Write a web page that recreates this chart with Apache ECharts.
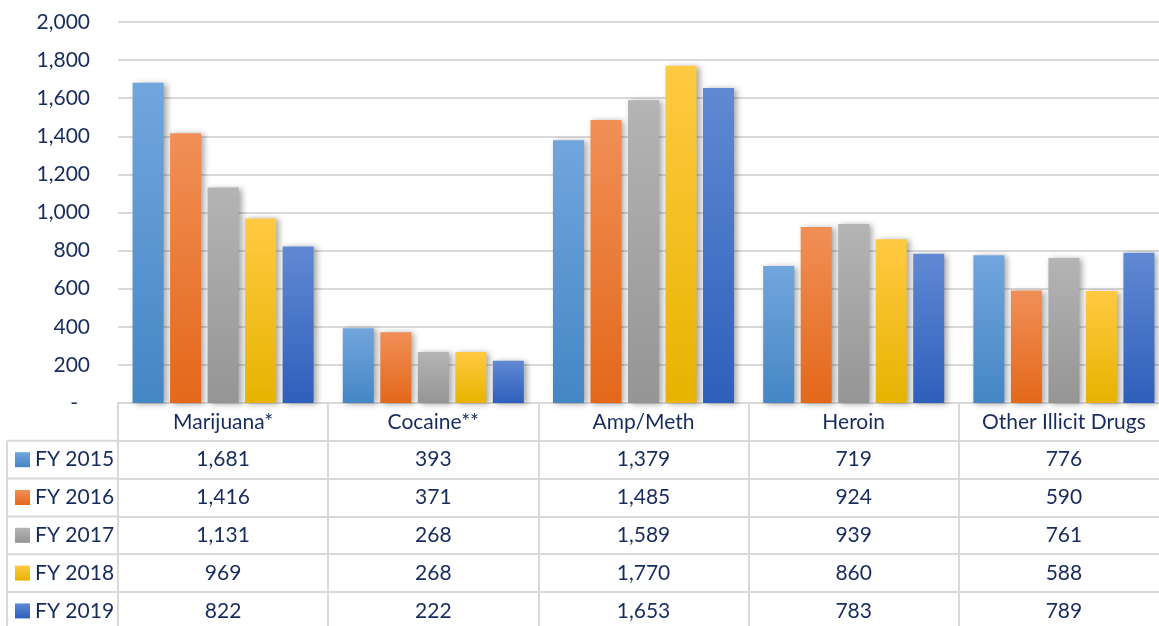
<!DOCTYPE html>
<html>
<head>
<meta charset="utf-8">
<script src="https://cdn.jsdelivr.net/npm/echarts@6/dist/echarts.min.js"></script>
<style>
  html, body { margin: 0; padding: 0; background: #ffffff; }
  #chart { width: 1159px; height: 626px; }
</style>
</head>
<body>
<div id="chart"></div>
<script>
// Drug categories along the x axis
const categories = ['Marijuana*', 'Cocaine**', 'Amp/Meth', 'Heroin', 'Other Illicit Drugs'];

// Fiscal-year series
const seriesNames = ['FY 2015', 'FY 2016', 'FY 2017', 'FY 2018', 'FY 2019'];
const fy2015 = [1681, 393, 1379, 719, 776];
const fy2016 = [1416, 371, 1485, 924, 590];
const fy2017 = [1131, 268, 1589, 939, 761];
const fy2018 = [969, 268, 1770, 860, 588];
const fy2019 = [822, 222, 1653, 783, 789];
const seriesValues = [fy2015, fy2016, fy2017, fy2018, fy2019];

// Value axis range
const yMin = 0;
const yMax = 2000;
const yStep = 200;

// Bar fills: lighter at the top, deeper at the base
const gradients = [
  ['#71a6dd', '#4586c5'],
  ['#f18f57', '#e3681a'],
  ['#b4b4b4', '#959595'],
  ['#ffca42', '#e7b300'],
  ['#6189d3', '#2e5fbb']
];

// Layout constants for the plot and its data table
const GRID_LEFT = 118;
const GRID_TOP = 22;
const GRID_W = 1051;
const GRID_H = 381;
const ROW_H = 37.8;
const TABLE_LEFT = 7;
const FONT = 'Lato, "Noto Sans", sans-serif';
const FONT_SIZE = 21;
const TEXT = '#172c5e';
const LINE = '#d9d9d9';

const fmt = v => v.toLocaleString('en-US');

const chart = echarts.init(document.getElementById('chart'), null, { renderer: 'canvas' });

// Table axes: row 0 is the header, rows 1..5 show each series' values
const tableAxes = [];
for (let r = 0; r <= seriesValues.length; r++) {
  tableAxes.push({
    type: 'category',
    data: categories,
    gridIndex: 0,
    position: 'bottom',
    offset: r * ROW_H,
    axisLine: { show: true, lineStyle: { color: LINE, width: 2 } },
    axisTick: { show: true, interval: 0, length: ROW_H, lineStyle: { color: LINE, width: 2 } },
    axisLabel: {
      interval: 0,
      margin: ROW_H / 2,
      verticalAlign: 'middle',
      color: TEXT,
      fontFamily: FONT,
      fontSize: FONT_SIZE,
      formatter: r === 0 ? (v => v) : ((v, i) => fmt(seriesValues[r - 1][i]))
    },
    splitLine: { show: false }
  });
}

// One legend per table row, placed in the left column
const legends = seriesNames.map((name, k) => ({
  orient: 'horizontal',
  left: 15,
  top: GRID_TOP + GRID_H + (k + 1.5) * ROW_H - 11,
  padding: 0,
  itemWidth: 15,
  itemHeight: 15,
  icon: 'rect',
  selectedMode: false,
  data: [name],
  textStyle: { color: TEXT, fontFamily: FONT, fontSize: FONT_SIZE, lineHeight: 22 }
}));

// Borders of the legend column to the left of the table
const tableGraphics = [];
for (let r = 1; r <= seriesValues.length; r++) {
  tableGraphics.push({
    type: 'line',
    shape: { x1: TABLE_LEFT, y1: GRID_TOP + GRID_H + r * ROW_H, x2: GRID_LEFT, y2: GRID_TOP + GRID_H + r * ROW_H },
    style: { stroke: LINE, lineWidth: 2 },
    silent: true
  });
}
tableGraphics.push({
  type: 'line',
  shape: { x1: TABLE_LEFT, y1: GRID_TOP + GRID_H + ROW_H, x2: TABLE_LEFT, y2: GRID_TOP + GRID_H + 7 * ROW_H },
  style: { stroke: LINE, lineWidth: 2 },
  silent: true
});

const option = {
  backgroundColor: '#ffffff',
  animation: false,
  textStyle: { fontFamily: FONT },
  grid: {
    left: GRID_LEFT, top: GRID_TOP, width: GRID_W, height: GRID_H,
    containLabel: false, outerBoundsMode: 'none'
  },
  legend: legends,
  xAxis: tableAxes,
  yAxis: {
    type: 'value',
    min: yMin,
    max: yMax,
    interval: yStep,
    axisLine: { show: false },
    axisTick: { show: false },
    axisLabel: {
      margin: 28,
      color: TEXT,
      fontFamily: FONT,
      fontSize: FONT_SIZE,
      formatter: v => (v === 0 ? '{z|-}' : fmt(v)),
      rich: { z: { color: TEXT, fontFamily: FONT, fontSize: FONT_SIZE, padding: [0, 12, 0, 0] } }
    },
    splitLine: { show: true, lineStyle: { color: LINE, width: 2 } }
  },
  graphic: tableGraphics,
  series: seriesNames.map((name, k) => ({
    name: name,
    type: 'bar',
    xAxisIndex: 0,
    data: seriesValues[k],
    barWidth: 31,
    barGap: '21%',
    itemStyle: {
      color: new echarts.graphic.LinearGradient(0, 0, 0, 1, [
        { offset: 0, color: gradients[k][0] },
        { offset: 1, color: gradients[k][1] }
      ]),
      shadowBlur: 6,
      shadowColor: 'rgba(0,0,0,0.35)',
      shadowOffsetX: 3,
      shadowOffsetY: 1
    }
  }))
};

chart.setOption(option);
</script>
</body>
</html>
